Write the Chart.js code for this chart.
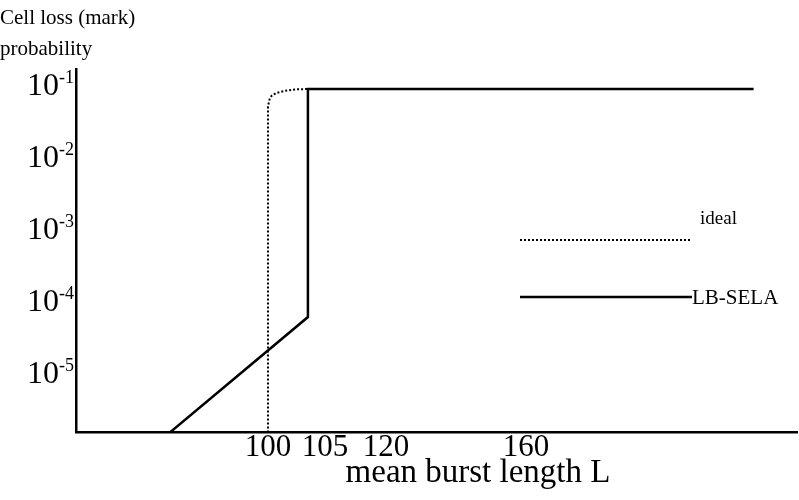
<!DOCTYPE html>
<html>
<head>
<meta charset="utf-8">
<script src="https://cdn.jsdelivr.net/npm/chart.js@4"></script>
<style>
  html, body { margin: 0; padding: 0; background: #fff; }
  #wrap { width: 799px; height: 500px; }
</style>
</head>
<body>
<div id="wrap"><canvas id="chart" width="799" height="500"></canvas></div>
<script>
const FONT = '"Liberation Serif", "DejaVu Serif", serif';

// x: mean burst length L (the axis of the original is not to scale)
const xTickValues = [100, 105, 120, 160];
const yTickValues = [1e-1, 1e-2, 1e-3, 1e-4, 1e-5];

// ideal curve
const idealL = [100, 100, 100.09, 100.18, 100.35, 100.79, 101.49, 102.37, 103.5];
const idealP = [1.5e-6, 0.05, 0.06, 0.066, 0.072, 0.078, 0.083, 0.087, 0.088];

// LB-SELA curve
const selaL = [91.4, 103.5, 103.5, 225];
const selaP = [1.5e-6, 6.0e-5, 0.088, 0.088];

const seriesNames = ['ideal', 'LB-SELA'];

// piecewise warp so that the ticks land where the original drew them
const warpKnotsL = [100, 105, 120, 160];
const warpKnotsU = [0, 57, 118, 258];
function warp(v) {
  const k = warpKnotsL, u = warpKnotsU, n = k.length;
  if (v <= k[0]) return u[0] + (v - k[0]) * (u[1] - u[0]) / (k[1] - k[0]);
  if (v >= k[n - 1]) return u[n - 1] + (v - k[n - 1]) * (u[n - 1] - u[n - 2]) / (k[n - 1] - k[n - 2]);
  for (let i = 1; i < n; i++) {
    if (v <= k[i]) return u[i - 1] + (v - k[i - 1]) * (u[i] - u[i - 1]) / (k[i] - k[i - 1]);
  }
}

class WarpScale extends Chart.LinearScale {
  getPixelForValue(v) {
    const a = warp(this.min), b = warp(this.max);
    return this.left + (warp(v) - a) / (b - a) * this.width;
  }
}
WarpScale.id = 'warp';
WarpScale.defaults = Chart.LinearScale.defaults;
Chart.register(WarpScale);

const toPts = (xs, ys) => xs.map((x, i) => ({ x, y: ys[i] }));

const annotate = {
  id: 'annotate',
  afterDraw(chart) {
    const ctx = chart.ctx;
    const ys = chart.scales.y;
    ctx.save();
    ctx.fillStyle = '#000';

    // y tick labels as 10 with superscript exponent
    yTickValues.forEach(v => {
      const py = ys.getPixelForValue(v);
      const exp = String(Math.round(Math.log10(v)));
      ctx.font = '18px ' + FONT;
      const ew = ctx.measureText(exp).width;
      ctx.textAlign = 'left';
      ctx.textBaseline = 'alphabetic';
      const right = ys.right - 2;
      ctx.fillText(exp, right - ew, py - 2);
      ctx.font = '32px ' + FONT;
      ctx.textAlign = 'right';
      ctx.fillText('10', right - ew, py + 10);
    });

    // y title
    ctx.font = '21px ' + FONT;
    ctx.textAlign = 'left';
    ctx.fillText('Cell loss (mark)', 0, 24);
    ctx.fillText('probability', 0, 55);

    // x title
    ctx.font = '33px ' + FONT;
    ctx.textAlign = 'center';
    ctx.fillText('mean burst length L', 478, 482);

    // in-plot key
    ctx.strokeStyle = '#000';
    ctx.lineWidth = 2;
    ctx.setLineDash([2, 2]);
    ctx.beginPath(); ctx.moveTo(520, 240); ctx.lineTo(690, 240); ctx.stroke();
    ctx.setLineDash([]);
    ctx.lineWidth = 2.5;
    ctx.beginPath(); ctx.moveTo(520, 297); ctx.lineTo(692, 297); ctx.stroke();
    ctx.textAlign = 'left';
    ctx.font = '19px ' + FONT;
    ctx.fillText(seriesNames[0], 700, 224);
    ctx.font = '21px ' + FONT;
    ctx.fillText(seriesNames[1], 692, 304);
    ctx.restore();
  }
};

new Chart(document.getElementById('chart'), {
  type: 'scatter',
  data: {
    datasets: [
      {
        label: seriesNames[0],
        data: toPts(idealL, idealP),
        showLine: true,
        borderColor: '#000',
        borderWidth: 2,
        borderDash: [2, 2],
        pointRadius: 0,
        tension: 0
      },
      {
        label: seriesNames[1],
        data: toPts(selaL, selaP),
        showLine: true,
        borderColor: '#000',
        borderWidth: 2.5,
        pointRadius: 0,
        tension: 0
      }
    ]
  },
  options: {
    responsive: false,
    animation: false,
    layout: { padding: { top: 69, right: 2, left: 0, bottom: 0 } },
    plugins: { legend: { display: false }, tooltip: { enabled: false } },
    scales: {
      x: {
        type: 'warp',
        min: 83.16,
        max: 237.4,
        afterBuildTicks: s => { s.ticks = xTickValues.map(v => ({ value: v })); },
        afterFit: s => { s.height = 68; },
        grid: { display: false, drawTicks: false },
        border: { display: true, color: '#000', width: 2.5 },
        ticks: {
          autoSkip: false,
          maxRotation: 0,
          padding: -3,
          color: '#000',
          font: { family: FONT, size: 31 },
          callback: v => String(v)
        }
      },
      y: {
        type: 'logarithmic',
        min: 1.52e-6,
        max: 0.167,
        afterFit: s => { s.width = 76; },
        grid: { display: false, drawTicks: false },
        border: { display: true, color: '#000', width: 2.5 },
        ticks: { display: false }
      }
    }
  },
  plugins: [annotate]
});
</script>
</body>
</html>
